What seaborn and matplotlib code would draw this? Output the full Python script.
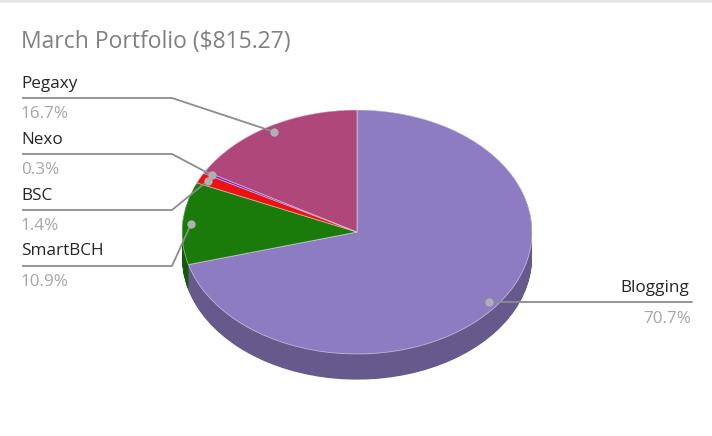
import matplotlib
matplotlib.use("Agg")
import matplotlib.pyplot as plt
import seaborn as sns
import numpy as np

# data
categorias = ["Blogging", "SmartBCH", "BSC", "Nexo", "Pegaxy"]
porcentajes = [70.7, 10.9, 1.4, 0.3, 16.7]
colores = ["#8E7CC3", "#1A7B0B", "#EC1212", "#6A24D6", "#B0477A"]
titulo = "March Portfolio ($815.27)"

sns.set_theme(style="white")
plt.rcParams["font.family"] = ["Open Sans", "DejaVu Sans"]

W, H = 712, 436
CX, CY = 357, 232      # centro del pastel en pixeles
RX, RY = 175, 122      # semiejes
PROF = 0.21            # profundidad del lateral (unidades y)

def px(x, y):
    # pixeles -> datos del eje
    return (x - CX) / RX, (CY - y) / RY

def oscurecer(c, f=0.72):
    r, g, b = matplotlib.colors.to_rgb(c)
    return (r * f, g * f, b * f)

fig = plt.figure(figsize=(W / 100, H / 100), dpi=100)
ax = fig.add_axes([0, 0, 1, 1])

# lateral: pasteles oscuros apilados
oscuros = [oscurecer(c) for c in colores]
for k in np.linspace(PROF, 0, 40):
    ax.pie(porcentajes, colors=oscuros, startangle=90, counterclock=False,
           radius=1, center=(0, -k), wedgeprops=dict(linewidth=0))

# cara superior
wedges, _ = ax.pie(porcentajes, colors=colores, startangle=90, counterclock=False,
                   radius=1, center=(0, 0),
                   wedgeprops=dict(linewidth=0.6, edgecolor=(1, 1, 1, 0.5)))

ax.set_aspect("auto")
x0, y0 = px(0, H)
x1, y1 = px(W, 0)
ax.set_xlim(x0, x1)
ax.set_ylim(y0, y1)
ax.axis("off")

def punto(w):
    ang = np.deg2rad((w.theta1 + w.theta2) / 2)
    return 0.95 * np.cos(ang), 0.95 * np.sin(ang)

linea = "#8C8C8C"
gris_txt = "#A6A6A6"
negro = "#262626"
fs = 12.3

# etiquetas izquierda: (y linea, y nombre, y porcentaje)
izq = {"Pegaxy": (98, 84, 114), "Nexo": (154, 140, 170),
       "BSC": (210, 196, 226), "SmartBCH": (266, 251, 282)}

for w, nombre, p in zip(wedges, categorias, porcentajes):
    dx, dy = punto(w)
    if nombre in izq:
        yl, yn, yp = izq[nombre]
        xa, ya = px(22, yl)
        xb, _ = px(172, yl)
        ax.plot([xa, xb, dx], [ya, ya, dy], color=linea, lw=1.3, solid_capstyle="butt")
        tx, ty = px(21, yn)
        ax.text(tx, ty, nombre, color=negro, fontsize=fs, ha="left", va="center")
        tx, ty = px(21, yp)
        ax.text(tx, ty, f"{p:.1f}%", color=gris_txt, fontsize=fs, ha="left", va="center")
    else:
        xb, _ = px(692, 0)
        ax.plot([dx, xb], [dy, dy], color=linea, lw=1.3)
        tx, ty = px(689, 288)
        ax.text(tx, ty, nombre, color=negro, fontsize=fs, ha="right", va="center")
        tx, ty = px(691, 319)
        ax.text(tx, ty, f"{p:.1f}%", color=gris_txt, fontsize=fs, ha="right", va="center")
    ax.plot(dx, dy, "o", color="#B0B0B0", markersize=6, markeredgewidth=0)

tx, ty = px(21, 42)
ax.text(tx, ty, titulo, color="#808080", fontsize=16.5, ha="left", va="center")

# borde gris superior
fig.add_artist(plt.Line2D([0, 1], [1, 1], transform=fig.transFigure,
                          color="#E4E4E4", lw=4))

plt.savefig("out.png", dpi=100)
plt.close()
